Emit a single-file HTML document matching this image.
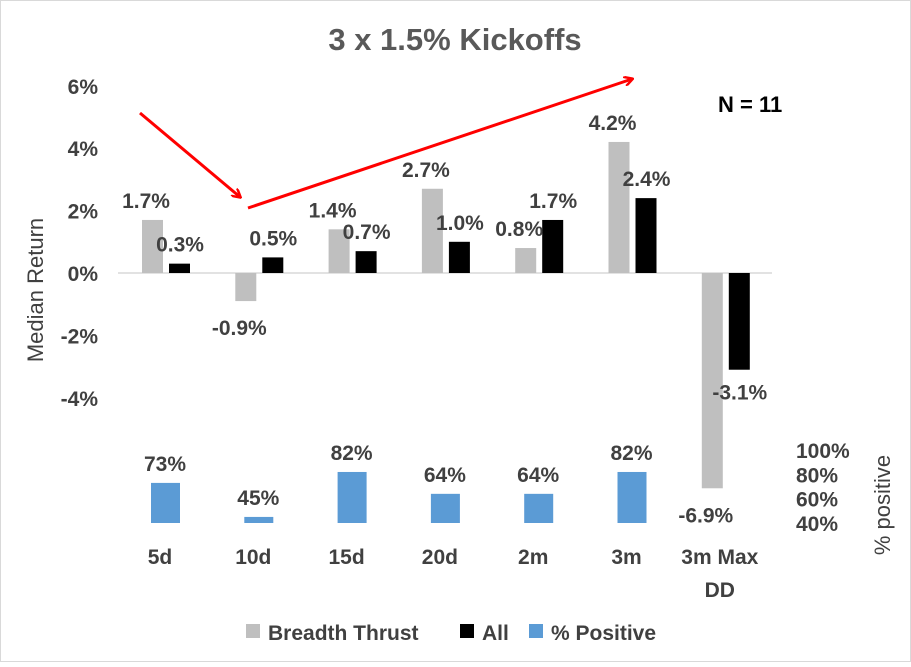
<!DOCTYPE html>
<html><head><meta charset="utf-8"><style>
body{margin:0;background:#fff}
svg text{font-family:"Liberation Sans",sans-serif;font-weight:bold;fill:#404040}
</style></head><body>
<svg width="911" height="662" viewBox="0 0 911 662">
<rect x="0.5" y="0.5" width="910" height="661" fill="#fff" stroke="#d9d9d9"/>
<text x="455" y="50" text-anchor="middle" font-size="31" fill="#595959" style="fill:#595959">3 x 1.5% Kickoffs</text>
<text x="718" y="112" font-size="22" style="fill:#000">N = 11</text>
<text transform="translate(43,290) rotate(-90)" text-anchor="middle" font-size="22" style="font-weight:normal;fill:#404040">Median Return</text>
<text transform="translate(890,505) rotate(-90)" text-anchor="middle" font-size="22" style="font-weight:normal;fill:#404040">% positive</text>
<g id="g"></g>
<defs><marker id="ah" markerWidth="10" markerHeight="10" refX="8" refY="5" orient="auto" markerUnits="userSpaceOnUse"><path d="M0,0 L9,5 L0,10" fill="none" stroke="#f00" stroke-width="2.5"/></marker></defs>
<line x1="140" y1="113" x2="240" y2="197" stroke="#f00" stroke-width="3" marker-end="url(#ah)"/>
<line x1="248" y1="208" x2="632" y2="79" stroke="#f00" stroke-width="3" marker-end="url(#ah)"/>
<g>
<rect x="246" y="624" width="14" height="14" fill="#bfbfbf"/>
<text x="268" y="640" font-size="21">Breadth Thrust</text>
<rect x="460" y="624" width="14" height="14" fill="#000"/>
<text x="482" y="640" font-size="21">All</text>
<rect x="529" y="624" width="14" height="14" fill="#5b9bd5"/>
<text x="551" y="640" font-size="21">% Positive</text>
</g>
</svg>
<script>
const categories=["5d","10d","15d","20d","2m","3m","3m Max|DD"];
const breadth=[1.7,-0.9,1.4,2.7,0.8,4.2,-6.9];
const allRet=[0.3,0.5,0.7,1.0,1.7,2.4,-3.1];
const pctPos=[73,45,82,64,64,82,null];
const yTicks=[6,4,2,0,-2,-4];
const y2Ticks=[100,80,60,40];
const NS="http://www.w3.org/2000/svg";
const g=document.getElementById('g');
function y(v){return 273-v*31.2;}
function y2(v){return 523-(v-40)*1.215;}
function cx(i){return 166+i*93.3;}
function mk(t,a,txt){const e=document.createElementNS(NS,t);for(const k in a)e.setAttribute(k,a[k]);if(txt!==undefined)e.textContent=txt;g.appendChild(e);return e;}
yTicks.forEach(v=>{const e=mk('text',{x:98,y:y(v)+8,'text-anchor':'end','font-size':21},v+'%');

});
y2Ticks.forEach(v=>{const e=mk('text',{x:796,y:y2(v)+8,'font-size':21},v+'%');

});
const z=mk('line',{x1:118,x2:772,y1:273,y2:273,stroke:'#d9d9d9','stroke-width':1.5});


categories.forEach((c,i)=>{
 const x=cx(i);
 const b=breadth[i],a=allRet[i];
 const gb=mk('rect',{x:x-24,width:21,y:Math.min(y(b),273),height:Math.abs(y(b)-273),fill:'#bfbfbf'});
 
 
 const ab=mk('rect',{x:x+3,width:21,y:Math.min(y(a),273),height:Math.abs(y(a)-273),fill:'#000'});
 
 
 const lb=mk('text',{x:x-20,y:b>=0?y(b)-12:y(b)+34,'text-anchor':'middle','font-size':21},b.toFixed(1)+'%');
 
 
 const la=mk('text',{x:x+14,y:a>=0?y(a)-12:y(a)+30,'text-anchor':'middle','font-size':21},a.toFixed(1)+'%');
 
 
 if(pctPos[i]!=null){
  const p=pctPos[i];
  const pb=mk('rect',{x:x-15,width:29,y:y2(p),height:523-y2(p),fill:'#5b9bd5'});
  
  
  const pl=mk('text',{x:x-1,y:y2(p)-12,'text-anchor':'middle','font-size':21},p+'%');
  
  
 }
 c.split('|').forEach((s,j)=>{
  const t=mk('text',{x:x-6,y:564+j*33,'text-anchor':'middle','font-size':21},s);
  
  
 });
});
</script>
</body></html>
